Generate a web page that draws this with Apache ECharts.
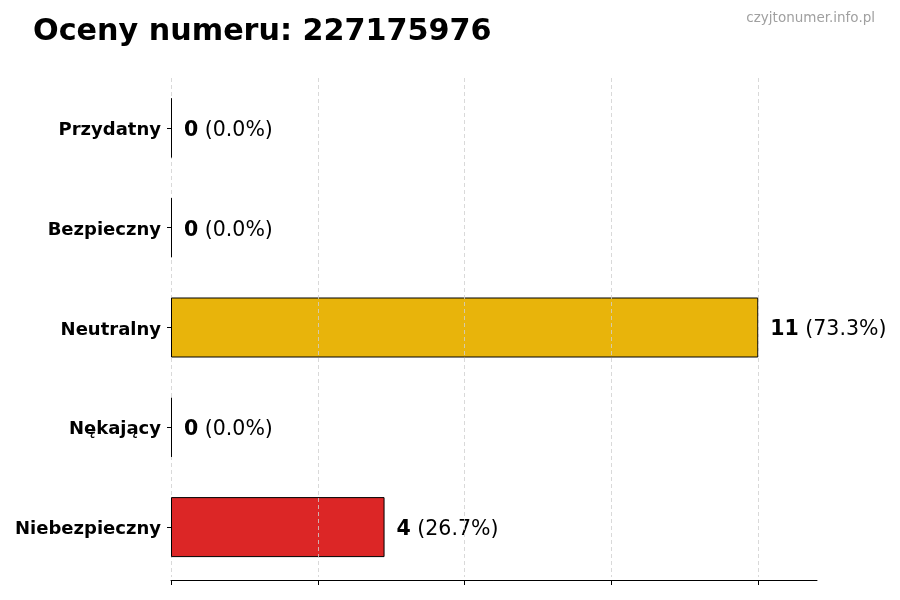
<!DOCTYPE html>
<html>
<head>
<meta charset="utf-8">
<script src="https://cdn.jsdelivr.net/npm/echarts@6/dist/echarts.min.js"></script>
<style>
	html, body { margin: 0; padding: 0; background: #fff; }
	#main { width: 900px; height: 600px; }
</style>
</head>
<body>
<div id="main"></div>
<script>
let categories = ['Przydatny', 'Bezpieczny', 'Neutralny', 'Nękający', 'Niebezpieczny'];
let values = [0, 0, 11, 0, 4];
let colors = ['#2ca02c', '#3b82f6', '#E8B40B', '#f97316', '#DC2626'];
let tick_values = [0, 2.75, 5.5, 8.25, 11];

let total = values.reduce((a, b) => a + b, 0);

let chartDom = document.getElementById('main');
let myChart = echarts.init(chartDom);

let bar_data = values.map((v, i) => ({
	value: v,
	itemStyle: { color: colors[i] }
}));

let grid_style = { color: '#d0d0d0', type: [4, 3], width: 1, opacity: 0.8 };

let option = {
	animation: false,
	textStyle: { fontFamily: 'DejaVu Sans' },
	title: [{
		text: 'Oceny numeru: 227175976',
		left: 28,
		top: 12,
		textStyle: { fontSize: 30.2, fontWeight: 'bold', color: '#000', fontFamily: 'DejaVu Sans' }
	}, {
		text: 'czyjtonumer.info.pl',
		right: 20,
		top: 6,
		textStyle: { fontSize: 13.5, fontWeight: 'normal', color: '#a0a0a0', fontFamily: 'DejaVu Sans' }
	}],
	grid: { left: 171, right: 83, top: 78, bottom: 23, containLabel: false },
	xAxis: {
		type: 'value',
		min: 0,
		max: 12.1,
		interval: 2.75,
		offset: 3,
		axisLabel: { show: false },
		axisLine: { show: true, lineStyle: { color: '#000', width: 1 } },
		axisTick: { show: true, length: 5, customValues: tick_values, lineStyle: { color: '#000' } },
		splitLine: { show: false }
	},
	yAxis: {
		type: 'category',
		inverse: true,
		data: categories,
		axisLine: { show: false },
		axisTick: { show: true, alignWithLabel: true, length: 4, lineStyle: { color: '#000' } },
		axisLabel: {
			margin: 10,
			formatter: (v) => '{c|' + v + '}',
			rich: {
				c: { fontSize: 18, fontWeight: 'bold', color: '#000', fontFamily: 'DejaVu Sans', padding: [5, 0, 0, 0] }
			}
		}
	},
	series: [{
		// zero gridline, drawn under the bars
		type: 'bar',
		data: [],
		silent: true,
		markLine: {
			silent: true,
			symbol: 'none',
			label: { show: false },
			z: 1,
			lineStyle: grid_style,
			data: [{ xAxis: tick_values[0] }]
		}
	}, {
		type: 'bar',
		data: bar_data,
		barWidth: 60,
		barMinHeight: 1,
		barGap: '-100%',
		z: 3,
		itemStyle: { borderColor: '#000', borderWidth: 1 },
		label: {
			show: true,
			position: 'right',
			distance: 12,
			padding: [5, 0, 0, 0],
			formatter: (p) => '{b|' + p.value + '}{n| (' + (p.value / total * 100).toFixed(1) + '%)}',
			rich: {
				b: { fontSize: 20.5, fontWeight: 'bold', color: '#000', fontFamily: 'DejaVu Sans' },
				n: { fontSize: 20.5, color: '#000', fontFamily: 'DejaVu Sans' }
			}
		},
		markLine: {
			silent: true,
			symbol: 'none',
			label: { show: false },
			z: 5,
			lineStyle: grid_style,
			data: tick_values.slice(1).map((v) => ({ xAxis: v }))
		}
	}]
};

myChart.setOption(option);
</script>
</body>
</html>
